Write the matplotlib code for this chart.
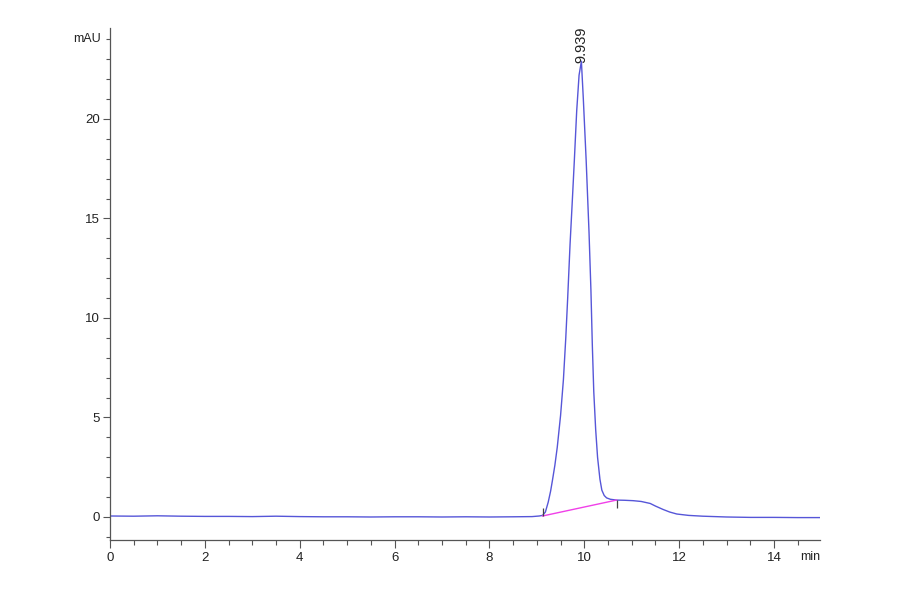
import matplotlib
matplotlib.use("Agg")
import matplotlib.pyplot as plt
import matplotlib.transforms as mtransforms
from matplotlib.ticker import MultipleLocator

# ---- data ----
time_min = [0.0, 0.5, 1.0, 1.5, 2.0, 2.5, 3.0, 3.5, 4.0, 4.5, 5.0, 5.5, 6.0,
            6.5, 7.0, 7.5, 8.0, 8.5, 8.9, 9.05, 9.12, 9.18, 9.24, 9.29, 9.33,
            9.38, 9.43, 9.50, 9.56, 9.61, 9.65, 9.70, 9.75, 9.79, 9.84, 9.89,
            9.939, 9.98, 10.04, 10.10, 10.14, 10.17, 10.20, 10.24, 10.28,
            10.33, 10.37, 10.42, 10.47, 10.55, 10.68, 10.85, 11.03, 11.2,
            11.39, 11.5, 11.66, 11.8, 11.95, 12.2, 12.5, 13.0, 13.5, 14.0,
            14.5, 14.97]
signal_mau = [0.05, 0.04, 0.06, 0.04, 0.03, 0.03, 0.02, 0.04, 0.02, 0.01,
              0.01, 0.00, 0.01, 0.01, 0.00, 0.01, 0.00, 0.01, 0.02, 0.05,
              0.08, 0.25, 0.75, 1.3, 1.86, 2.6, 3.5, 5.1, 6.9, 9.0, 11.0,
              13.7, 16.0, 17.9, 20.4, 22.2, 22.9, 21.0, 17.9, 14.3, 11.4,
              8.6, 6.3, 4.4, 3.0, 1.9, 1.35, 1.08, 0.96, 0.89, 0.85, 0.84,
              0.82, 0.78, 0.68, 0.55, 0.38, 0.25, 0.15, 0.08, 0.04, 0.0,
              -0.02, -0.02, -0.03, -0.03]

# integration baseline of the main peak
baseline_t = [9.12, 10.68]
baseline_v = [0.05, 0.85]

peak_rt = 9.939
peak_height = 22.9

x_major_ticks = [0, 2, 4, 6, 8, 10, 12, 14]
y_major_ticks = [0, 5, 10, 15, 20]

# ---- figure ----
W, H = 900, 594
fig = plt.figure(figsize=(W / 100, H / 100), dpi=100)
ax = fig.add_axes([110 / W, 1 - 540 / H, (820 - 110) / W, (540 - 28) / H])

font = ['Liberation Sans Narrow', 'Liberation Sans', 'DejaVu Sans']
plt.rcParams['font.family'] = font

ax.plot(time_min, signal_mau, color='#5656d8', lw=1.0, solid_joinstyle='round')
ax.plot(baseline_t, baseline_v, color='#f040e8', lw=1.0)
# integration start / end tick marks
ax.plot(baseline_t[:1], baseline_v[:1], ls='none', marker=2, ms=6, mew=0.9,
        color='#444444')
ax.plot(baseline_t[1:], baseline_v[1:], ls='none', marker=3, ms=6, mew=0.9,
        color='#444444')

ax.text(peak_rt, peak_height - 0.1, f"{peak_rt:.3f}", rotation=90,
        ha='center', va='bottom', fontsize=10.5, color='#222222', family=font)

ax.set_xlim(0, 14.97)
ax.set_ylim(-1.156, 24.57)

ax.set_xticks(x_major_ticks)
ax.set_yticks(y_major_ticks)
ax.xaxis.set_minor_locator(MultipleLocator(0.5))
ax.yaxis.set_minor_locator(MultipleLocator(1))

for s in ('top', 'right'):
    ax.spines[s].set_visible(False)
for s in ('left', 'bottom'):
    ax.spines[s].set_color('#555555')
    ax.spines[s].set_linewidth(0.9)

ax.tick_params(axis='x', which='major', length=6, width=0.8, color='#555555',
               pad=2.5, labelsize=9.5, labelcolor='#222222')
ax.tick_params(axis='x', which='minor', length=3.8, width=0.8, color='#555555')
ax.tick_params(axis='y', which='major', length=5, width=0.8, color='#555555',
               pad=2, labelsize=9.5, labelcolor='#222222')
ax.tick_params(axis='y', which='minor', length=3, width=0.8, color='#555555')
for lab in ax.get_xticklabels() + ax.get_yticklabels():
    lab.set_family(font)

# axis unit labels
trans_y = mtransforms.blended_transform_factory(ax.transAxes, ax.transData)
ax.text(-9 / (820 - 110), 24.0, "mAU", transform=trans_y, ha='right',
        va='center', fontsize=9, color='#222222', family=font)
ax.text(1.0, -17 / (540 - 28), "min", transform=ax.transAxes, ha='right',
        va='center', fontsize=9, color='#222222', family=font)

fig.savefig("out.png", dpi=100, facecolor='white')
